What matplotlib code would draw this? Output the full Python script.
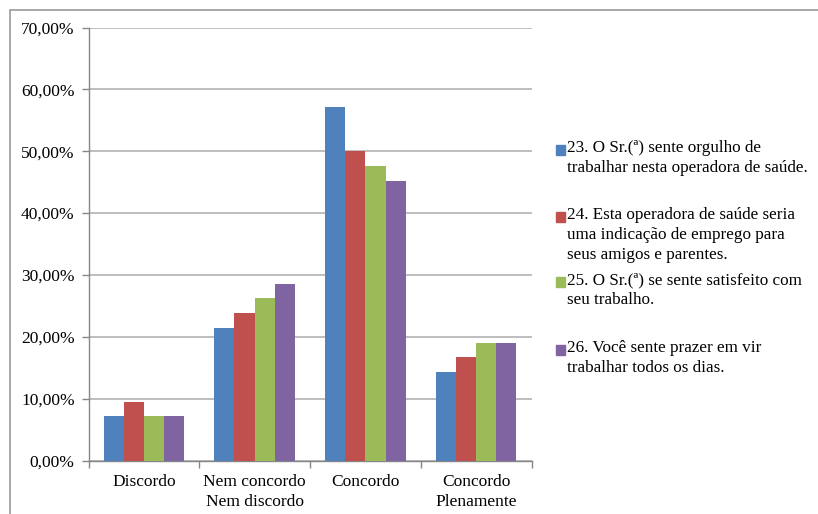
import numpy as np
import matplotlib.pyplot as plt
from matplotlib.patches import Rectangle
from matplotlib.ticker import FuncFormatter

plt.rcParams['font.family'] = ['Liberation Serif', 'DejaVu Serif']

# Respostas por categoria (percentual)
categorias = ['Discordo', 'Nem concordo\nNem discordo', 'Concordo', 'Concordo\nPlenamente']
q23 = [7.14, 21.43, 57.14, 14.29]
q24 = [9.52, 23.81, 50.00, 16.67]
q25 = [7.14, 26.19, 47.62, 19.05]
q26 = [7.14, 28.57, 45.24, 19.05]

rotulos = [
    '23. O Sr.(ª) sente orgulho de\ntrabalhar nesta operadora de saúde.',
    '24. Esta operadora de saúde seria\numa indicação de emprego para\nseus amigos e parentes.',
    '25. O Sr.(ª) se sente satisfeito com\nseu trabalho.',
    '26. Você sente prazer em vir\ntrabalhar todos os dias.',
]
cores = ['#4F81BD', '#C0504D', '#9BBB59', '#8064A2']

W, H = 818, 514
fig = plt.figure(figsize=(W / 100, H / 100), dpi=100)

# moldura externa
fig.patches.append(Rectangle((10 / W, -0.1), 1.2, 1 - 9.5 / H + 0.1,
                             transform=fig.transFigure, fill=False,
                             edgecolor='#9a9a9a', lw=1.2))

ax = fig.add_axes([88.5 / W, 1 - 460.5 / H, 443 / W, 433 / H])

series = [q23, q24, q25, q26]
x = np.arange(len(categorias))
larg = 1 / 5.5
for i, (vals, cor) in enumerate(zip(series, cores)):
    ax.bar(x + (i - 1.5) * larg, vals, larg, color=cor, zorder=3)

ax.set_xlim(-0.5, len(categorias) - 0.5)
ax.set_ylim(0, 70)
ax.set_yticks(np.arange(0, 71, 10))
ax.yaxis.set_major_formatter(FuncFormatter(lambda v, p: f'{v:.2f}%'.replace('.', ',')))
ax.grid(axis='y', color='#b3b3b3', lw=1.2, zorder=0)
ax.set_axisbelow(True)

ax.set_xticks(np.arange(-0.5, len(categorias), 1))
ax.set_xticklabels([])
ax.set_xticks(x, minor=True)
ax.set_xticklabels(categorias, minor=True, fontsize=12.5, linespacing=1.3)
ax.tick_params(axis='x', which='minor', length=0, pad=10)
ax.tick_params(axis='x', which='major', length=5, color='#868686', width=1)
ax.tick_params(axis='y', length=5, color='#868686', width=1, labelsize=12.5, pad=5)

for s in ['top', 'right']:
    ax.spines[s].set_visible(False)
for s in ['left', 'bottom']:
    ax.spines[s].set_color('#868686')
    ax.spines[s].set_linewidth(1)

# legenda
topos = [140, 207, 272, 340]
for rot, cor, yt in zip(rotulos, cores, topos):
    fig.patches.append(Rectangle((555.5 / W, 1 - (yt + 14.5) / H), 9.5 / W, 9.5 / H,
                                 transform=fig.transFigure, color=cor))
    fig.text(567 / W, 1 - yt / H, rot, fontsize=12.3, va='top', ha='left',
             linespacing=1.33)

fig.savefig('out.png', dpi=100)
